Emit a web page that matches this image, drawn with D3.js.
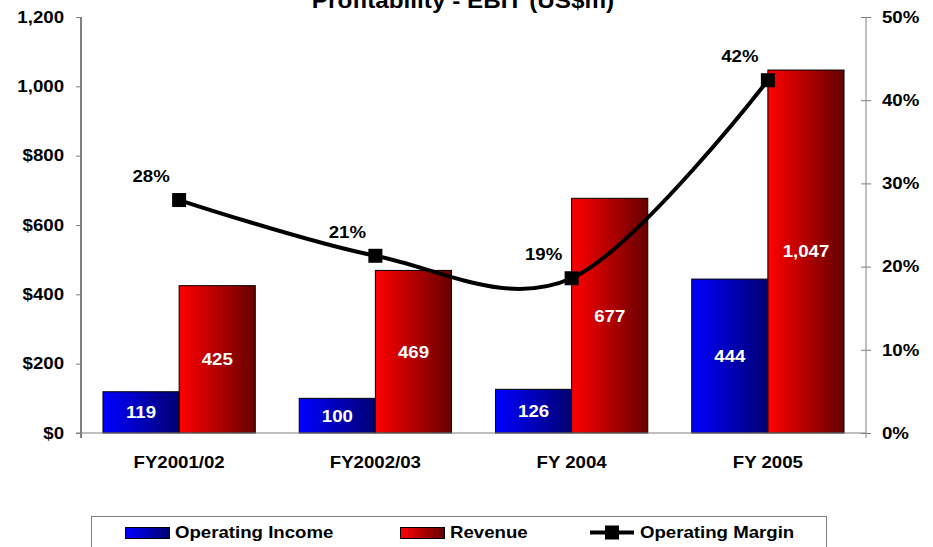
<!DOCTYPE html>
<html>
<head>
<meta charset="utf-8">
<script src="https://cdn.jsdelivr.net/npm/d3@7"></script>
<style>
  body { margin: 0; background: #fff; }
  svg { display: block; font-family: "Liberation Sans", Arial, sans-serif; font-weight: bold; }
  svg text { font-family: "Liberation Sans", Arial, sans-serif; font-weight: bold; }
</style>
</head>
<body>
<svg id="chart" width="933" height="547"></svg>
<script>
// data
var categories = ["FY2001/02", "FY2002/03", "FY 2004", "FY 2005"];
var operatingIncome = [119, 100, 126, 444];
var revenue = [425, 469, 677, 1047];
var operatingMargin = [28.0, 21.3, 18.6, 42.4];
var leftTicks = [0, 200, 400, 600, 800, 1000, 1200];
var leftTickLabels = ["$0", "$200", "$400", "$600", "$800", "1,000", "1,200"];
var rightTicks = [0, 10, 20, 30, 40, 50];
var rightTickLabels = ["0%", "10%", "20%", "30%", "40%", "50%"];
var legendLabels = ["Operating Income", "Revenue", "Operating Margin"];

var svg = d3.select("svg#chart");
var plot = { left: 81, right: 866, top: 17, bottom: 433 };
var SX = 1.13; // the source picture is stretched a bit horizontally

var x0 = d3.scaleBand().domain(categories).range([plot.left, plot.right])
  .paddingInner(0.224).paddingOuter(0.112);
var x1 = d3.scaleBand().domain(["oi", "rev"]).range([0, x0.bandwidth()]);
var y = d3.scaleLinear().domain([0, 1200]).range([plot.bottom, plot.top]);
var yR = d3.scaleLinear().domain([0, 50]).range([plot.bottom, plot.top]);

// put a text at (px,py) with a horizontal stretch
function place(sel, px, py, sx) {
  sel.attr("x", 0).attr("y", 0)
    .attr("transform", function (d, i) {
      var a = typeof px === "function" ? px(d, i) : px;
      var b = typeof py === "function" ? py(d, i) : py;
      return "translate(" + a + "," + b + ") scale(" + sx + ",1)";
    });
  return sel;
}

// gradients
var defs = svg.append("defs");
function grad(id, c0, c1) {
  var g = defs.append("linearGradient").attr("id", id)
    .attr("x1", "0%").attr("x2", "100%").attr("y1", "0%").attr("y2", "0%");
  g.append("stop").attr("offset", "0%").attr("stop-color", c0);
  g.append("stop").attr("offset", "100%").attr("stop-color", c1);
}
grad("gBlue", "#0000ff", "#000072");
grad("gRed", "#ff0000", "#660000");

// title (cut at the top like the reference)
place(svg.append("text"), 463, 8, SX).attr("text-anchor", "middle")
  .style("font-size", "21.5px").attr("fill", "#000").text("Profitability - EBIT (US$m)");

// left axis
var leftAxis = d3.axisLeft(y).tickValues(leftTicks).tickSize(5)
  .tickFormat(function (d, i) { return leftTickLabels[i]; });
var gl = svg.append("g").attr("transform", "translate(" + plot.left + ",0)").call(leftAxis);
gl.select(".domain").attr("stroke", "#000").attr("d", "M0," + plot.top + "V" + (plot.bottom + 5));
gl.selectAll(".tick line").attr("stroke", "#808080");
gl.selectAll(".tick text").attr("x", -17 / SX).attr("transform", "scale(" + SX + ",1)")
  .style("font-size", "16.5px").attr("fill", "#000");

// right axis
var rightAxis = d3.axisRight(yR).tickValues(rightTicks).tickSize(5)
  .tickFormat(function (d, i) { return rightTickLabels[i]; });
var gr = svg.append("g").attr("transform", "translate(" + plot.right + ",0)").call(rightAxis);
gr.select(".domain").attr("stroke", "#808080").attr("d", "M0," + plot.top + "V" + (plot.bottom + 5));
gr.selectAll(".tick line").attr("stroke", "#808080").attr("x1", -5);
gr.selectAll(".tick text").attr("x", 16 / SX).attr("transform", "scale(" + SX + ",1)")
  .style("font-size", "16.5px").attr("fill", "#000");

// bars
var groups = svg.append("g").selectAll("g").data(categories).join("g")
  .attr("transform", function (d) { return "translate(" + x0(d) + ",0)"; });

groups.append("rect")
  .attr("x", x1("oi")).attr("width", x1.bandwidth())
  .attr("y", function (d, i) { return y(operatingIncome[i]); })
  .attr("height", function (d, i) { return y(0) - y(operatingIncome[i]); })
  .attr("fill", "url(#gBlue)").attr("stroke", "#000").attr("stroke-width", 1);
groups.append("rect")
  .attr("x", x1("rev")).attr("width", x1.bandwidth())
  .attr("y", function (d, i) { return y(revenue[i]); })
  .attr("height", function (d, i) { return y(0) - y(revenue[i]); })
  .attr("fill", "url(#gRed)").attr("stroke", "#000").attr("stroke-width", 1);

place(groups.append("text"), x1("oi") + x1.bandwidth() / 2,
    function (d, i) { return (y(operatingIncome[i]) + y(0)) / 2; }, SX)
  .attr("dy", "0.36em").attr("text-anchor", "middle").attr("fill", "#fff")
  .style("font-size", "16.5px").text(function (d, i) { return d3.format(",")(operatingIncome[i]); });
place(groups.append("text"), x1("rev") + x1.bandwidth() / 2,
    function (d, i) { return (y(revenue[i]) + y(0)) / 2; }, SX)
  .attr("dy", "0.36em").attr("text-anchor", "middle").attr("fill", "#fff")
  .style("font-size", "16.5px").text(function (d, i) { return d3.format(",")(revenue[i]); });

// x axis baseline
svg.append("line").attr("x1", plot.left - 5).attr("x2", plot.right)
  .attr("y1", plot.bottom).attr("y2", plot.bottom).attr("stroke", "#808080");

// category labels
place(svg.append("g").selectAll("text").data(categories).join("text"),
    function (d) { return x0(d) + x0.bandwidth() / 2; }, 468, SX)
  .attr("text-anchor", "middle").style("font-size", "16.5px")
  .text(function (d) { return d; });

// margin line
var pts = categories.map(function (c, i) { return [x0(c) + x0.bandwidth() / 2, yR(operatingMargin[i])]; });
svg.append("path").datum(pts)
  .attr("d", d3.line().curve(d3.curveCardinal.tension(0)))
  .attr("fill", "none").attr("stroke", "#000").attr("stroke-width", 4);
svg.append("g").selectAll("rect").data(pts).join("rect")
  .attr("x", function (d) { return d[0] - 7; }).attr("y", function (d) { return d[1] - 7; })
  .attr("width", 14).attr("height", 14).attr("fill", "#000");
place(svg.append("g").selectAll("text").data(pts).join("text"),
    function (d) { return d[0] - 28; }, function (d) { return d[1] - 18; }, SX)
  .attr("text-anchor", "middle").style("font-size", "16.5px")
  .text(function (d, i) { return Math.round(operatingMargin[i]) + "%"; });

// legend
var lg = svg.append("g");
lg.append("rect").attr("x", 91.5).attr("y", 516.5).attr("width", 735).attr("height", 40)
  .attr("fill", "#fff").attr("stroke", "#808080");
var legendX = [125, 400, 590];
var legendFills = ["url(#gBlue)", "url(#gRed)", null];
legendLabels.forEach(function (lab, i) {
  var gx = legendX[i];
  if (legendFills[i]) {
    lg.append("rect").attr("x", gx + 0.5).attr("y", 527.5).attr("width", 44).attr("height", 11)
      .attr("fill", legendFills[i]).attr("stroke", "#000");
    gx += 50;
  } else {
    lg.append("line").attr("x1", gx).attr("x2", gx + 44).attr("y1", 532.5).attr("y2", 532.5)
      .attr("stroke", "#000").attr("stroke-width", 4);
    lg.append("rect").attr("x", gx + 15).attr("y", 525.5).attr("width", 14).attr("height", 14).attr("fill", "#000");
    gx += 50;
  }
  place(lg.append("text"), gx, 538, SX).style("font-size", "16.5px").text(lab);
});
</script>
</body>
</html>
